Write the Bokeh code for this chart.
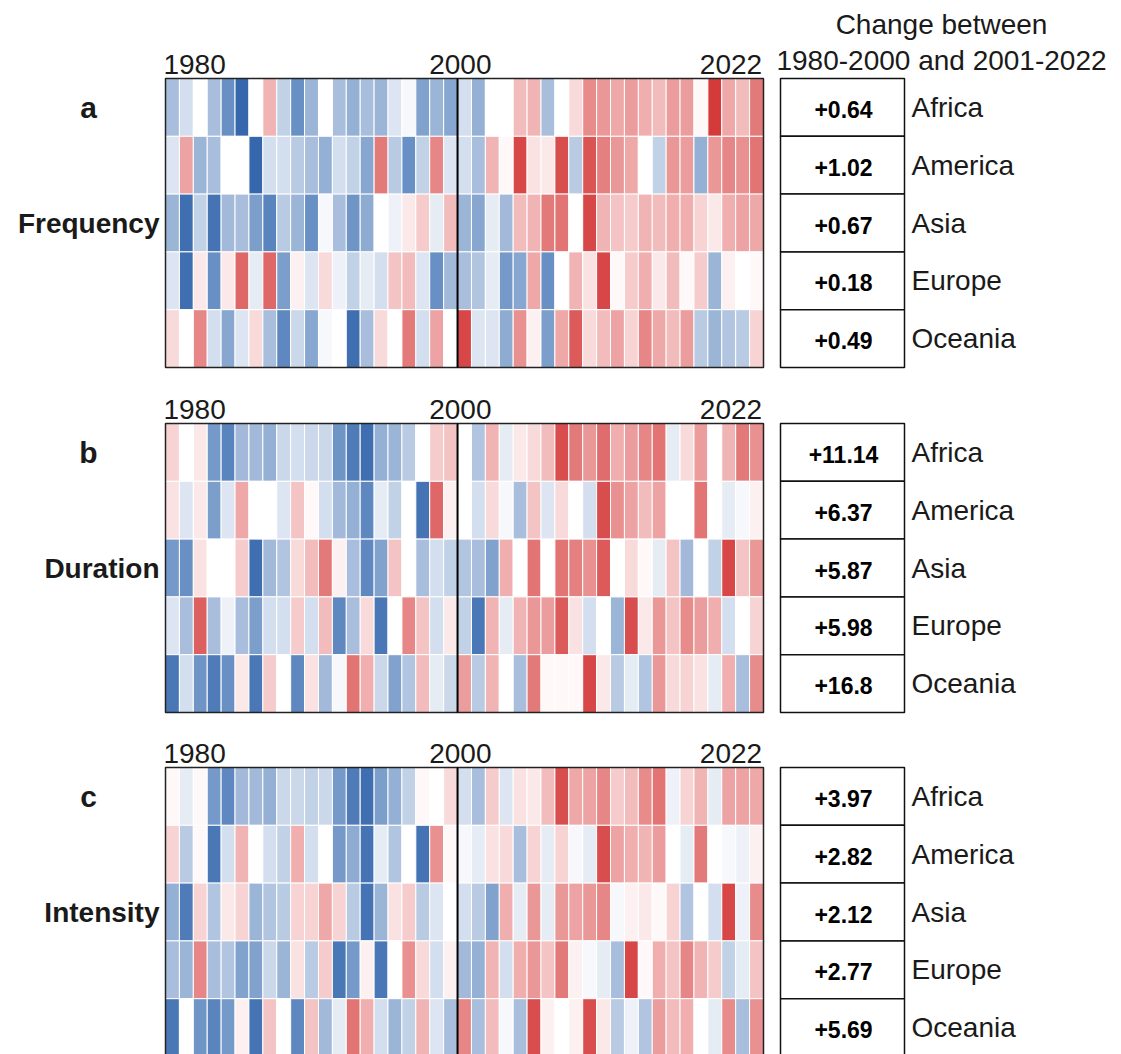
from bokeh.plotting import figure
from bokeh.models import Range1d, ColumnDataSource, LinearColorMapper
from bokeh.core.properties import value
from bokeh.embed import file_html
from bokeh.resources import INLINE

# ---------------- data ----------------
years = list(range(1980, 2023))
regions = ["Africa", "America", "Asia", "Europe", "Oceania"]
metrics = ["Frequency", "Duration", "Intensity"]
panel_letters = ["a", "b", "c"]
tick_years = ["1980", "2000", "2022"]
header_lines = ["Change between", "1980-2000 and 2001-2022"]

# Standardised anomalies (blue = below, red = above), 1980..2022
freq_africa = [-1, -0.5, 0, -1, -2, -3, 0, 1, -0.7, -2, -1.2, 0, -1, -1.3, -1, -1.2, -0.4, -0.1, -1.6, -1.2, -1.5,
               -0.5, -1.3, 0, 0, 0.9, 1, -1, 0, 0.5, 1.7, 1.5, 1.2, 1.4, 1.1, 0.9, 1.4, 1.4, 0.1, 3, 1.2, 0.9, 2]
freq_america = [-0.4, 1.3, -1.2, -1, 0, 0, -3, -0.5, -0.5, -0.8, -1, -1.3, -0.5, -0.7, -1.5, 2, -0.8, -2, -0.7, 1.8, -0.4,
                -0.5, -1, 1, 0.1, 2.8, 0.4, 0.3, 2.7, -0.8, 2.6, 1.9, 1.5, 1.2, 0, -0.7, 1.5, 1.4, -1.3, 1.5, 1.8, 1.6, 2.1]
freq_asia = [-1.2, -2.8, -0.7, -2.7, -1.1, -1, -1.7, -2.3, -0.8, -1.2, -2, -0.1, -1, -1.9, -1.4, 0, -0.2, 0.3, 0.7, -0.3, 0.9,
             -1.2, -1.5, -0.3, -1.1, 0.9, 1, 2, 2.1, 0, 2.8, 1, 0.8, 0.7, 1, 0.9, 1.1, 1.1, 0.6, 0.3, 1.1, 1.3, 1.2]
freq_europe = [-0.4, -2.8, 0.3, -2, 0.3, 2.3, -0.3, 2.3, -1.7, 0.2, -0.4, 0.5, -0.2, -0.7, -0.3, -0.5, 0.8, 0.9, -0.4, -2, -1.1,
               -1, -0.9, -0.3, -1.8, -1.5, 1.2, -2, 0, 1, 0.4, 2.8, 0.1, 0.7, 1.1, 0.3, 0.9, 0.1, 0.7, -1.2, 0.2, 0, 0.1]
freq_oceania = [0.5, 0, 1.8, -0.5, -1.5, -0.4, 0.5, -1, -2.2, -0.6, -1.5, -0.1, 0, -2.8, -1, 0.5, 0, 2, -0.5, 1.3, 0,
                2.8, -0.4, -0.4, -1.4, 1.6, 0.2, -1.7, 1.2, 2.5, 0.5, 0.9, 1.3, 0.6, 1.8, 1.2, 0.9, 1.4, -0.8, -1.2, -0.9, -0.8, 0.6]

dur_africa = [0.6, 0, 0.3, -1.8, -2.3, -1.1, -1.1, -1.3, -0.6, -0.5, -0.6, -0.6, -1.9, -2.5, -2.8, -1.3, -1.2, -0.8, 0, 0.7, 0.8,
              0, -0.9, 1, -0.3, 0.3, 0.5, 0.9, 2.7, 2, 1.5, 2.2, 1.1, 1.4, 1.8, 2.1, -0.3, 0.5, 1.4, 0, 1, 2, 1.6]
dur_america = [0.4, -0.4, 0.3, -1.7, -0.4, 1.2, 0, 0, -0.4, 0.8, 0.1, -0.5, -1.1, -1.3, -2.2, -0.3, -0.7, 0, -2.7, 2.3, 0.2,
               0, -0.5, 0.5, -0.1, -1, 0.8, -0.4, 0.5, 0, -0.5, 2.7, 1.6, 1.3, 0.9, 1.3, 0, 0, 2.1, 0, -0.3, -0.1, 0.2]
dur_asia = [-1.8, -2, 0.4, 0, 0, 0.7, -2.8, -1.1, -0.9, 0.5, 0.9, 2, 0.2, -1, -2.2, -1.6, 0.8, 0, -1, -0.5, -0.7,
            -0.9, -1, -1.6, 1.1, 0, 2.1, 0, 2.1, 1.9, 1.6, 2.5, 0, 0.5, 0.1, -0.3, 0.8, -1.1, 0, -0.7, 2.8, 0.8, 1.5]
dur_europe = [-0.4, -1, 2.4, -1, -0.2, -1, -1.7, -0.5, -0.5, 0.7, -0.5, 0.9, -2.2, -1, 0.5, -2.6, 0, 1.8, 0.8, -0.5, 0.3,
              -0.7, -2.6, 1, -0.3, 1, 1.5, 1.4, 2.5, 0.4, -0.5, 0, -1.2, 2.7, 0.3, 1.5, 0.8, 1.7, 1.4, 1.1, -0.5, 0, 0.6]
dur_oceania = [-2.6, -0.5, -1.9, -2.5, -2, 0.3, -2.6, 0.7, 0, -2.2, 0.4, -1.1, -0.1, 2.1, 1.1, -0.6, -1.6, -0.9, 0.9, -0.3, -0.6,
               1.4, -0.8, 1, 0, -1, 2, 0.1, 0.1, 0.1, 2.8, 0.3, -0.8, -0.3, -0.9, 1.5, 0.5, 0.6, 0.4, -0.3, 1.1, -1, 1.7]

int_africa = [0.1, -0.3, 0.1, -1.8, -2.2, -1.1, -1.1, -1.3, -0.6, -0.6, -0.7, -0.6, -1.8, -2.5, -2.8, -1.7, -1.3, -0.7, 0.1, 0, 0.5,
              -0.5, -1, 0.7, -0.4, 0.4, 0.3, 0.9, 2.7, 1.2, 1.3, 1.8, 0.7, 0.9, 1.7, 2.1, -0.2, 0.6, 1, -0.3, 1.3, 1.3, 1.2]
int_america = [0.6, -0.8, 0.1, -2.6, -0.5, 1, 0, -0.5, -0.7, 1.1, -0.5, 0, -1.8, -1.4, -2.7, -0.3, -0.9, 0, -2.7, 1.6, 0.1,
               -0.1, -0.3, 0.4, 0.5, -1, 0.6, -0.3, 0.6, -0.1, -0.3, 2.7, 1.3, 1.1, 1, 1.4, 0, -0.3, 2, 0, -0.1, -0.2, 0.2]
int_asia = [-1.3, -2.5, 0.6, -0.9, 0.3, 0.6, -1.2, -0.9, -0.8, 0.6, 0.6, 1.2, 0.6, -0.8, -2.7, -1.2, 0.4, 0.7, -0.8, -0.4, 0,
            -0.5, -0.8, -1.6, 1.1, -0.3, 1.5, -0.3, 1.5, 1.3, 1.5, 1.8, -0.1, 0.2, 0.3, 0.1, 0.6, -0.9, 0, -0.5, 2.8, -0.2, 1.7]
int_europe = [-1, -1.2, 1.8, -1, -0.9, -1.6, -1.6, -0.6, -1.2, 0.4, -0.8, 0.7, -2.6, -1.8, 0.2, -2.6, 0, 1.6, 0.5, -0.5, 0.2,
              -1.1, -1.3, 1, -0.5, 1.1, 1.5, 0.8, 2, 0.2, -0.1, -0.3, -1, 2.8, 0.1, 1.1, 0.8, 1.8, 1, 0.7, -0.7, -0.3, 0.8]
int_oceania = [-2.6, 0, -1.9, -2.3, -1.8, 0.2, -2.7, 0.8, 0, -2.2, 0.8, -1.1, -0.3, 2.1, 1.1, -0.5, -1.2, -0.7, 1, -0.4, -1,
               1.8, -1, 0.9, -0.1, -1, 2.7, 0.2, 0, 0.2, 2.7, 0.3, -0.8, -0.2, -0.9, 1.4, 0.9, 1.1, 0, -0.3, 1.7, -1, 1.6]

freq_change = ["+0.64", "+1.02", "+0.67", "+0.18", "+0.49"]
dur_change = ["+11.14", "+6.37", "+5.87", "+5.98", "+16.8"]
int_change = ["+3.97", "+2.82", "+2.12", "+2.77", "+5.69"]

panels = [
    [freq_africa, freq_america, freq_asia, freq_europe, freq_oceania],
    [dur_africa, dur_america, dur_asia, dur_europe, dur_oceania],
    [int_africa, int_america, int_asia, int_europe, int_oceania],
]
changes = [freq_change, dur_change, int_change]

# ---------------- layout / style ----------------
W, H = 1121, 1054
LEFT_PX, RIGHT_PX = 165, 763
PXY = (RIGHT_PX - LEFT_PX) / len(years)
X0 = years[0] - 0.5 - LEFT_PX / PXY


def xpx(px):
    return X0 + px / PXY


TOPS = [78, 423, 767]
ROW_H = 57.8
FONT = "Liberation Sans"
TXT = "#1a1a1a"
FS = "28px"

anchors = [
    (-3.0, (54, 103, 172)),
    (-2.0, (104, 144, 196)),
    (-1.0, (168, 190, 220)),
    (-0.4, (220, 229, 241)),
    (0.0, (255, 255, 255)),
    (0.4, (250, 226, 226)),
    (1.0, (241, 180, 180)),
    (2.0, (227, 122, 122)),
    (3.0, (212, 58, 58)),
]


def interp(v):
    for (a, ca), (b, cb) in zip(anchors[:-1], anchors[1:]):
        if a <= v <= b:
            t = (v - a) / (b - a)
            c = [round(ca[i] + t * (cb[i] - ca[i])) for i in range(3)]
            return "#%02x%02x%02x" % tuple(c)
    return "#ffffff"


NPAL = 241
palette = [interp(-3 + 6 * i / (NPAL - 1)) for i in range(NPAL)]
mapper = LinearColorMapper(palette=palette, low=-3, high=3)

p = figure(width=W, height=H, x_range=Range1d(X0, X0 + W / PXY), y_range=Range1d(H, 0),
           output_backend="svg", toolbar_location=None, min_border=0,
           x_axis_location=None, y_axis_location=None, outline_line_color=None,
           background_fill_color="white", border_fill_color="white")
p.xgrid.visible = False
p.ygrid.visible = False

for k, rows in enumerate(panels):
    top = TOPS[k]
    xs, ys, vs = [], [], []
    for r, row in enumerate(rows):
        for yr, v in zip(years, row):
            xs.append(yr)
            ys.append(top + (r + 0.5) * ROW_H)
            vs.append(v)
    src = ColumnDataSource(dict(x=xs, y=ys, v=vs))
    p.rect(x="x", y="y", width=1, height=ROW_H, source=src,
           fill_color={"field": "v", "transform": mapper},
           line_color="white", line_width=1)
    bottom = top + 5 * ROW_H
    # frame + 2000/2001 divider
    p.rect(x=[(years[0] + years[-1]) / 2], y=[top + 2.5 * ROW_H], width=len(years), height=5 * ROW_H,
           fill_color=None, line_color="#222222", line_width=1.5)
    p.segment(x0=[2000.5], y0=[top], x1=[2000.5], y1=[bottom], line_color="black", line_width=2)

    # year labels
    p.text(x=[years[0] - 0.5 - 0.15], y=[top - 5], text=[tick_years[0]], text_align="left",
           text_baseline="bottom", text_font=value(FONT), text_font_size=FS, text_color=TXT)
    p.text(x=[2000.5 + 0.2], y=[top - 5], text=[tick_years[1]], text_align="center",
           text_baseline="bottom", text_font=value(FONT), text_font_size=FS, text_color=TXT)
    p.text(x=[years[-1] + 0.5 - 0.1], y=[top - 5], text=[tick_years[2]], text_align="right",
           text_baseline="bottom", text_font=value(FONT), text_font_size=FS, text_color=TXT)

    # panel letter & metric name
    p.text(x=[xpx(88)], y=[top + 0.5 * ROW_H], text=[panel_letters[k]], text_align="center",
           text_baseline="middle", text_font=value(FONT), text_font_style="bold",
           text_font_size="30px", text_color=TXT)
    p.text(x=[xpx(159)], y=[top + 2.5 * ROW_H], text=[metrics[k]], text_align="right",
           text_baseline="middle", text_font=value(FONT), text_font_style="bold",
           text_font_size=FS, text_color=TXT)

    # change boxes
    cy = [top + (r + 0.5) * ROW_H for r in range(5)]
    p.rect(x=[xpx(842)] * 5, y=cy, width=124 / PXY, height=ROW_H, fill_color="white",
           line_color="#111111", line_width=1.5)
    p.text(x=[xpx(843)] * 5, y=[c + 2 for c in cy], text=changes[k], text_align="center",
           text_baseline="middle", text_font=value(FONT), text_font_style="bold",
           text_font_size="23px", text_color="black")
    p.text(x=[xpx(911)] * 5, y=cy, text=regions, text_align="left", text_baseline="middle",
           text_font=value(FONT), text_font_size=FS, text_color=TXT)

# header
p.text(x=[xpx(941), xpx(941)], y=[24, 60], text=header_lines, text_align="center",
       text_baseline="middle", text_font=value(FONT), text_font_size=FS, text_color=TXT)

open("out.html", "w").write(file_html(p, INLINE))
